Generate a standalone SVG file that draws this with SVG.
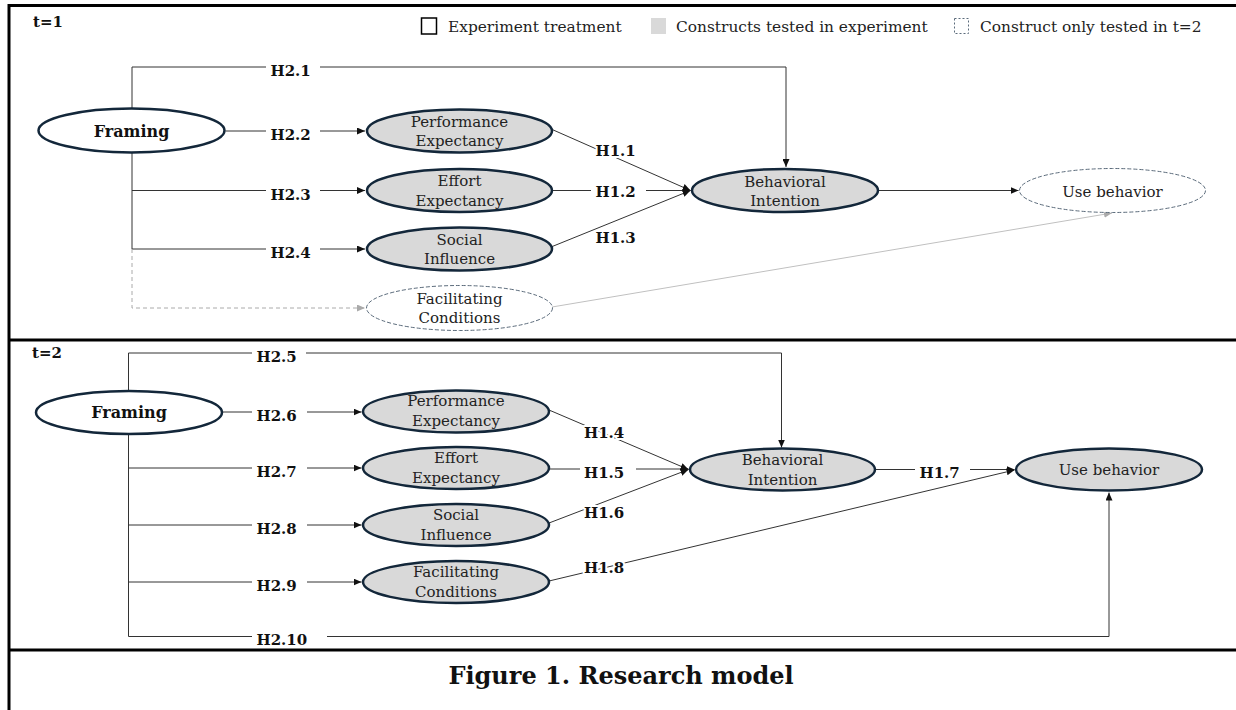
<svg xmlns="http://www.w3.org/2000/svg" width="1236" height="710" viewBox="0 0 1236 710">
<style>
.frame{stroke:#000;stroke-width:3;fill:none}
.node{fill:#d9d9d9;stroke:#13273a;stroke-width:2.5}
.treat{fill:#fff;stroke:#13273a;stroke-width:2.5}
.dnode{fill:#fff;stroke:#5b6b7b;stroke-width:1;stroke-dasharray:4 2}
.t{font-family:"DejaVu Serif",serif;font-size:15px;fill:#222;text-anchor:middle}
.leg{font-family:"DejaVu Serif",serif;font-size:15.4px;fill:#222}
.b{font-family:"DejaVu Serif",serif;font-weight:bold;font-size:16px;fill:#111;text-anchor:middle}
.lab{font-family:"DejaVu Serif",serif;font-weight:bold;font-size:15px;fill:#111}
.halo{stroke:#fff;stroke-width:4;paint-order:stroke;stroke-linejoin:round}
.c{stroke:#333;stroke-width:1;fill:none}
.ca{stroke:#333;stroke-width:1;fill:none;marker-end:url(#ah)}
.g{stroke:#aaa;stroke-width:1;fill:none;stroke-dasharray:4 3;marker-end:url(#gh)}
.gs{stroke:#c0c0c0;stroke-width:1;fill:none;marker-end:url(#gh)}
</style>
<defs>
<marker id="ah" markerUnits="userSpaceOnUse" markerWidth="8" markerHeight="7" refX="8" refY="3.5" orient="auto"><path d="M0,0 L8,3.5 L0,7 z" fill="#111"/></marker>
<marker id="gh" markerUnits="userSpaceOnUse" markerWidth="8" markerHeight="7" refX="8" refY="3.5" orient="auto"><path d="M0,0 L8,3.5 L0,7 z" fill="#aaa"/></marker>
</defs>
<rect width="1236" height="710" fill="#fff"/>
<g id="frame">
<path class="frame" d="M9,710 V5.5 H1236 M7.5,340 H1236 M7.5,650 H1236"/>
</g>
<g id="legend">
<text class="lab" x="33" y="27">t=1</text>
<text class="lab" x="32" y="358">t=2</text>
<rect x="421.5" y="18" width="15" height="16" fill="#fff" stroke="#000" stroke-width="1.5"/>
<text class="leg" x="448" y="32">Experiment treatment</text>
<rect x="651" y="18" width="15" height="16" fill="#d9d9d9"/>
<text class="leg" x="676" y="32">Constructs tested in experiment</text>
<rect x="954.5" y="18.5" width="14" height="15" fill="#fff" stroke="#5b6b7b" stroke-width="1" stroke-dasharray="2 2"/>
<text class="leg" x="980" y="32">Construct only tested in t=2</text>
</g>
<g id="connectors">
<path class="c" d="M132,108.5 V67 H266"/>
<path class="ca" d="M320,67 H786 V167"/>
<path class="c" d="M225.5,131 H266"/>
<path class="ca" d="M320,131 H365"/>
<path class="c" d="M132,152.5 V249"/>
<path class="c" d="M132,190.5 H266"/>
<path class="ca" d="M320,190.5 H365"/>
<path class="c" d="M132,249 H266"/>
<path class="ca" d="M320,249 H365"/>
<path class="g" d="M132,249 V308 H365"/>
<path class="ca" d="M551,129 L690.5,190.5"/>
<path class="c" d="M552,190.5 H591"/>
<path class="ca" d="M646,190.5 H690.5"/>
<path class="ca" d="M551,247 L690.5,190.5"/>
<path class="ca" d="M878,190.5 H1018.5"/>
<path class="gs" d="M552,307 L1112,213"/>
<path class="c" d="M128.5,391 V353 H252"/>
<path class="ca" d="M306,353 H781.5 V447.5"/>
<path class="c" d="M222,412 H252"/>
<path class="ca" d="M307,412 H361.5"/>
<path class="c" d="M128.5,434 V636.5 H252"/>
<path class="ca" d="M327,636.5 H1109 V492.5"/>
<path class="c" d="M128.5,468 H252"/>
<path class="ca" d="M307,468 H361.5"/>
<path class="c" d="M128.5,525 H252"/>
<path class="ca" d="M307,525 H361.5"/>
<path class="c" d="M128.5,582 H252"/>
<path class="ca" d="M307,582 H361.5"/>
<path class="ca" d="M549,410 L688.5,469.5"/>
<path class="c" d="M550,469 H580"/>
<path class="ca" d="M636,469 H688.5"/>
<path class="ca" d="M549,523 L688.5,469.5"/>
<path class="c" d="M876,469.5 H915"/>
<path class="ca" d="M970,469.5 H1014.5"/>
<path class="ca" d="M549,581 L1014.5,470"/>
</g>
<g id="labels">
<text class="lab" x="270.5" y="76">H2.1</text>
<text class="lab" x="270.5" y="140">H2.2</text>
<text class="lab" x="270.5" y="199.5">H2.3</text>
<text class="lab" x="270.5" y="258">H2.4</text>
<text class="lab halo" x="595.5" y="156">H1.1</text>
<text class="lab" x="595.5" y="197">H1.2</text>
<text class="lab halo" x="595.5" y="243">H1.3</text>
<text class="lab" x="256.5" y="361.5">H2.5</text>
<text class="lab" x="256.5" y="420.5">H2.6</text>
<text class="lab" x="256.5" y="477">H2.7</text>
<text class="lab" x="256.5" y="534">H2.8</text>
<text class="lab" x="256.5" y="591">H2.9</text>
<text class="lab" x="256.5" y="645">H2.10</text>
<text class="lab halo" x="584" y="438">H1.4</text>
<text class="lab" x="584" y="477.5">H1.5</text>
<text class="lab halo" x="584" y="518">H1.6</text>
<text class="lab" x="919.5" y="478">H1.7</text>
<text class="lab halo" x="584" y="573">H1.8</text>
</g>
<g id="framing1"><ellipse class="treat" cx="131.5" cy="130.5" rx="93" ry="22"/><text class="b" x="131.5" y="136.5">Framing</text></g>
<g id="pe1"><ellipse class="node" cx="459.5" cy="131" rx="92.5" ry="21.5"/><text class="t" x="459.5" y="126.5">Performance</text><text class="t" x="459.5" y="146">Expectancy</text></g>
<g id="ee1"><ellipse class="node" cx="459.5" cy="190.5" rx="92.5" ry="21.5"/><text class="t" x="459.5" y="186">Effort</text><text class="t" x="459.5" y="205.5">Expectancy</text></g>
<g id="si1"><ellipse class="node" cx="459.5" cy="249" rx="92.5" ry="21.5"/><text class="t" x="459.5" y="244.5">Social</text><text class="t" x="459.5" y="264">Influence</text></g>
<g id="fc1"><ellipse class="dnode" cx="459.5" cy="308" rx="93" ry="22.5"/><text class="t" x="459.5" y="303.5">Facilitating</text><text class="t" x="459.5" y="323">Conditions</text></g>
<g id="bi1"><ellipse class="node" cx="785" cy="190.5" rx="93" ry="21.5"/><text class="t" x="785" y="186.5">Behavioral</text><text class="t" x="785" y="206">Intention</text></g>
<g id="ub1"><ellipse class="dnode" cx="1112.5" cy="190.5" rx="93" ry="22"/><text class="t" x="1112.5" y="196.5">Use behavior</text></g>
<g id="framing2"><ellipse class="treat" cx="129" cy="412.5" rx="93" ry="21.5"/><text class="b" x="129" y="418">Framing</text></g>
<g id="pe2"><ellipse class="node" cx="456" cy="411.5" rx="93" ry="21"/><text class="t" x="456" y="406">Performance</text><text class="t" x="456" y="425.5">Expectancy</text></g>
<g id="ee2"><ellipse class="node" cx="456" cy="468" rx="93" ry="21"/><text class="t" x="456" y="463">Effort</text><text class="t" x="456" y="482.5">Expectancy</text></g>
<g id="si2"><ellipse class="node" cx="456" cy="525" rx="93" ry="21"/><text class="t" x="456" y="520">Social</text><text class="t" x="456" y="539.5">Influence</text></g>
<g id="fc2"><ellipse class="node" cx="456" cy="582" rx="93" ry="21"/><text class="t" x="456" y="577">Facilitating</text><text class="t" x="456" y="596.5">Conditions</text></g>
<g id="bi2"><ellipse class="node" cx="782.5" cy="469.5" rx="92.5" ry="21"/><text class="t" x="782.5" y="465">Behavioral</text><text class="t" x="782.5" y="484.5">Intention</text></g>
<g id="ub2"><ellipse class="node" cx="1109" cy="469.5" rx="93" ry="21"/><text class="t" x="1109" y="475">Use behavior</text></g>
<g id="caption"><text class="b" x="621" y="684" style="font-size:24px">Figure 1. Research model</text></g>
</svg>
